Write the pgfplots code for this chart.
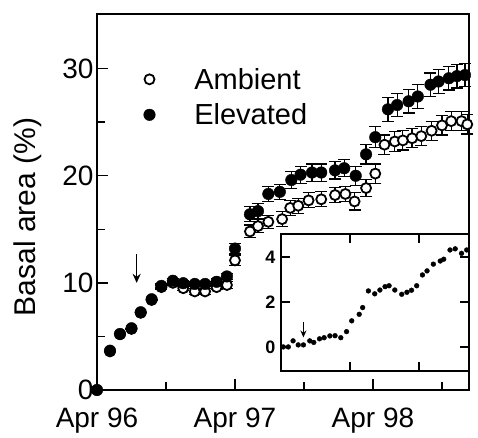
\documentclass[border=0pt]{standalone}
\usepackage{fontspec}
\setmainfont{Liberation Sans}
\usepackage{pgfplots}
\pgfplotsset{compat=1.18}
\usepackage{pgfplotstable}
\usetikzlibrary{arrows.meta}
\pgfplotstableread{
x y e
0 0 0
1.13 3.6 0
2.0 5.2 0
3.0 5.7 0
3.8 7.2 0
4.75 8.4 0
5.6 9.6 0.2
6.6 10.0 0.2
7.5 9.5 0.2
8.5 9.2 0.25
9.4 9.2 0.25
10.4 9.6 0.25
11.3 9.8 0.3
12.0 12.1 0.5
13.3 14.8 0.6
14.0 15.3 0.6
14.9 15.7 0.6
16.1 15.95 0.7
16.8 17.0 0.7
17.5 17.2 0.7
18.4 17.7 0.7
19.5 17.8 0.7
20.7 18.2 0.7
21.6 18.3 0.7
22.4 17.6 0.8
23.4 18.85 0.8
24.2 20.2 0.9
25.0 22.9 0.9
25.9 23.2 0.9
26.6 23.3 0.9
27.4 23.5 0.9
28.2 23.7 0.9
29.1 24.2 0.9
30.0 24.7 0.9
30.8 25.1 0.9
31.7 25.1 0.9
32.2 24.8 0.9
}\ambient
\pgfplotstableread{
x y e
0 0 0
1.13 3.67 0
2.0 5.23 0
3.0 5.76 0
3.8 7.26 0
4.75 8.47 0
5.6 9.72 0.2
6.6 10.2 0.2
7.5 9.97 0.2
8.5 9.9 0.2
9.4 9.9 0.2
10.4 10.1 0.3
11.3 10.6 0.3
12.0 13.2 0.5
13.3 16.4 0.7
14.0 16.7 0.7
14.9 18.3 0.7
15.9 18.5 0.7
16.9 19.6 0.8
17.7 20.1 0.8
18.7 20.3 0.8
19.5 20.3 0.8
20.7 20.5 0.8
21.5 20.7 0.8
22.5 20.0 0.9
23.4 22.0 0.9
24.2 23.6 1.0
25.3 26.2 1.1
26.1 26.6 1.1
27.1 26.95 1.1
27.9 27.4 1.1
29.0 28.5 1.1
29.7 28.8 1.1
30.6 29.1 1.1
31.3 29.3 1.1
32.0 29.4 1.1
}\elevated
\pgfplotstableread{
x y
0.4 0.0
1.27 0.0
2.1 0.27
3.0 0.09
3.9 0.09
5.0 0.27
5.7 0.2
6.7 0.36
7.5 0.41
8.5 0.49
9.4 0.5
10.4 0.41
11.4 0.68
12.3 1.16
13.6 1.45
14.2 1.75
15.2 2.49
16.3 2.36
17.2 2.53
18.1 2.68
18.8 2.72
19.8 2.53
21.0 2.34
21.9 2.43
22.7 2.52
23.6 2.72
24.6 3.2
25.4 3.38
26.5 3.68
27.7 3.82
28.3 3.9
29.4 4.31
30.3 4.36
31.4 4.16
32.3 4.31
}\diff
\begin{document}
\begin{tikzpicture}
\begin{axis}[
  name=main,
  scale only axis,
  width=372bp, height=376bp,
  xmin=0, xmax=32.35, ymin=0, ymax=35.1,
  clip=false,
  axis line style={line width=1.6bp},
  every tick/.style={line width=1.4bp, black},
  tick align=inside,
  xtick pos=bottom, ytick pos=left,
  xtick={0,12,24}, xticklabels={Apr 96, Apr 97, Apr 98},
  minor xtick={6,18,30},
  ytick={0,10,20,30}, minor ytick={5,15,25},
  major tick length=11bp, minor tick length=8bp,
  /pgf/number format/assume math mode=true,
  ticklabel style={font=\fontsize{28bp}{32bp}\selectfont},
  xticklabel style={yshift=-14bp},
  ylabel={Basal area (\%)},
  ylabel style={font=\fontsize{30bp}{34bp}\selectfont, at={(axis description cs:-0.185,0.46)}, anchor=center},
  legend style={at={(axis description cs:0.125,0.862)}, anchor=north west, draw=none, fill=none,
    font=\fontsize{29bp}{32bp}\selectfont, row sep=9bp, inner sep=0pt},
  legend cell align=left,
]
\addplot[only marks, mark=*, mark size=5bp, mark options={fill=white, draw=black, line width=1.8bp},
  error bars/.cd, y dir=both, y explicit,
  error bar style={line width=1.2bp, black},
  error mark options={rotate=90, mark size=6bp, line width=1.2bp, black}]
  table[x=x, y=y, y error=e]{\ambient};
\addlegendentry{\hspace{37bp}Ambient}
\addplot[only marks, mark=*, mark size=5.8bp, mark options={fill=black, draw=black},
  error bars/.cd, y dir=both, y explicit,
  error bar style={line width=1.2bp, black},
  error mark options={rotate=90, mark size=6bp, line width=1.2bp, black}]
  table[x=x, y=y, y error=e]{\elevated};
\addlegendentry{\hspace{37bp}Elevated}
\draw[-{Stealth[length=9bp,width=8bp]}, line width=1.6bp] (axis cs:3.45,12.7) -- (axis cs:3.45,10.0);
\end{axis}
\begin{axis}[
  at={(main.south west)}, shift={(184bp,19bp)}, anchor=south west,
  scale only axis,
  width=188bp, height=137bp,
  xmin=0, xmax=32.7, ymin=-1.07, ymax=5.02,
  axis background/.style={fill=white},
  axis line style={line width=1.5bp},
  every tick/.style={line width=1.3bp, black},
  tick align=inside,
  xtick={12,24}, xticklabels={},
  ytick={0,2,4},
  yticklabels={\textbf{0},\textbf{2},\textbf{4}},
  major tick length=9bp,
  yticklabel style={font=\fontsize{18bp}{20bp}\selectfont, xshift=-2bp},
  clip=false,
]
\addplot[only marks, mark=*, mark size=2.4bp, black] table[x=x, y=y]{\diff};
\draw[-{Stealth[length=7bp,width=6bp]}, line width=1.3bp] (axis cs:3.9,1.1) -- (axis cs:3.9,0.42);
\end{axis}
\pgfresetboundingbox
\path ([shift={(-97bp,-48bp)}]main.south west) rectangle ([shift={(9bp,14bp)}]main.north east);
\end{tikzpicture}
\end{document}
